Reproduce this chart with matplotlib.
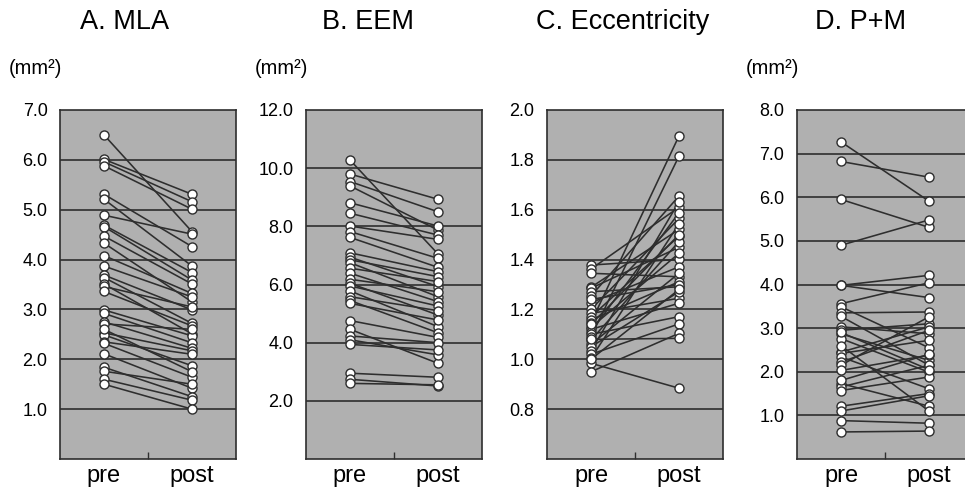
import matplotlib
matplotlib.use("Agg")
import matplotlib.pyplot as plt
from matplotlib.ticker import FixedLocator

plt.rcParams['font.family'] = ['Liberation Sans', 'DejaVu Sans']

# ---------------- data ----------------
categories = ["pre", "post"]

mla_pre = [6.50, 6.01, 5.96, 5.88, 5.31, 5.21, 4.89, 4.69, 4.66, 4.47, 4.33, 4.08,
           3.87, 3.69, 3.64, 3.51, 3.46, 3.36, 2.99, 2.92, 2.75, 2.71, 2.53, 2.49,
           2.35, 2.32, 2.11, 1.84, 1.76, 1.60, 1.50, 2.60]
mla_post = [4.56, 5.31, 5.16, 5.01, 4.26, 3.87, 4.51, 3.74, 3.59, 3.51, 3.15, 3.32,
            3.25, 2.99, 2.72, 2.51, 3.05, 2.67, 2.47, 2.33, 2.22, 2.60, 2.17, 1.87,
            2.10, 1.64, 1.42, 1.25, 1.50, 1.18, 1.00, 1.75]

eem_pre = [10.28, 9.80, 9.54, 9.39, 8.81, 8.45, 8.01, 7.82, 7.62, 7.09, 6.94, 6.85,
           6.75, 6.56, 6.39, 6.18, 6.04, 5.95, 5.78, 5.58, 5.45, 5.35, 4.76, 4.46,
           4.23, 4.10, 3.94, 2.95, 2.74, 2.60]
eem_post = [7.05, 8.93, 8.50, 7.87, 8.01, 7.70, 7.55, 6.90, 6.59, 6.44, 5.93, 6.27,
            5.58, 6.10, 5.41, 5.75, 4.95, 5.26, 4.55, 5.10, 4.34, 4.78, 4.18, 3.29,
            4.00, 3.58, 3.75, 2.81, 2.51, 2.55]

ecc_pre = [1.378, 1.362, 1.345, 1.289, 1.285, 1.271, 1.254, 1.227, 1.200, 1.184,
           1.170, 1.158, 1.147, 1.128, 1.120, 1.111, 1.100, 1.091, 1.077, 1.060,
           1.050, 1.034, 1.020, 1.004, 0.984, 0.950, 1.240, 1.140, 1.080, 1.000]
ecc_post = [1.401, 1.610, 1.331, 1.521, 1.449, 1.291, 1.655, 1.371, 1.565, 1.245,
            1.494, 1.311, 1.896, 1.425, 1.225, 1.588, 1.171, 1.815, 1.472, 1.345,
            1.271, 1.632, 1.142, 1.543, 0.884, 1.104, 1.300, 1.500, 1.084, 1.280]

pm_pre = [7.27, 6.82, 5.95, 4.90, 3.98, 3.98, 3.56, 3.49, 3.35, 3.27, 3.03, 2.95,
          2.87, 2.76, 2.45, 2.42, 2.34, 2.22, 2.15, 2.03, 1.73, 1.65, 1.57, 1.21,
          0.88, 0.62, 2.90, 2.60, 1.80, 1.10]
pm_post = [5.91, 6.46, 5.31, 5.48, 4.21, 3.70, 4.04, 2.55, 3.37, 2.15, 2.87, 3.10,
           2.26, 1.99, 3.03, 2.72, 1.61, 2.95, 3.26, 2.38, 1.21, 2.15, 1.88, 1.50,
           0.82, 0.64, 2.05, 1.10, 2.40, 1.45]

titles = ["A. MLA", "B. EEM", "C. Eccentricity", "D. P+M"]
units = ["(mm²)", "(mm²)", None, "(mm²)"]
ylims = [(0, 7), (0, 12), (0.6, 2.0), (0, 8)]
yticks = [[1, 2, 3, 4, 5, 6, 7],
          [2, 4, 6, 8, 10, 12],
          [0.8, 1.0, 1.2, 1.4, 1.6, 1.8, 2.0],
          [1, 2, 3, 4, 5, 6, 7, 8]]
panels = [(mla_pre, mla_post), (eem_pre, eem_post),
          (ecc_pre, ecc_post), (pm_pre, pm_post)]

# ---------------- layout ----------------
W, H = 965, 495
fig = plt.figure(figsize=(W / 100, H / 100), dpi=100)

lefts_px = [60, 306, 547, 797]
title_x_px = [125, 368, 623, 861]
ax_w_px = 176
ax_top_px, ax_bot_px = 110, 459

bg = "#b0b0b0"
dark = "#2e2e2e"

for i in range(4):
    left = lefts_px[i] / W
    bottom = (H - ax_bot_px) / H
    height = (ax_bot_px - ax_top_px) / H
    ax = fig.add_axes([left, bottom, ax_w_px / W, height])
    ax.set_facecolor(bg)
    pre, post = panels[i]
    for a, b in zip(pre, post):
        ax.plot([0.5, 1.5], [a, b], color=dark, lw=1.15, zorder=2)
    ax.plot([0.5] * len(pre), pre, 'o', ms=6.5, mfc='white', mec=dark, mew=1.0, zorder=3,
            linestyle='none')
    ax.plot([1.5] * len(post), post, 'o', ms=6.5, mfc='white', mec=dark, mew=1.0, zorder=3,
            linestyle='none')
    ax.set_xlim(0, 2)
    ax.set_ylim(*ylims[i])
    ax.set_yticks(yticks[i])
    ax.set_yticklabels([f"{t:.1f}" for t in yticks[i]])
    for t in yticks[i]:
        if t < ylims[i][1] - 1e-9:
            ax.axhline(t, color=dark, lw=1.2, zorder=1)
    ax.set_xticks([0.5, 1.5])
    ax.set_xticklabels(categories)
    ax.xaxis.set_minor_locator(FixedLocator([1.0]))
    ax.tick_params(axis='y', length=0, pad=9, labelsize=13)
    ax.tick_params(axis='x', which='major', length=0, pad=4, labelsize=17)
    ax.tick_params(axis='x', which='minor', direction='in', length=5, width=1.0,
                   color=dark)
    for s in ax.spines.values():
        s.set_color(dark)
        s.set_linewidth(1.2)
    fig.text(title_x_px[i] / W, 1 - 22 / H, titles[i], ha='center', va='center',
             fontsize=19.5)
    if units[i]:
        fig.text((lefts_px[i] - 51) / W, 1 - 68 / H, units[i], ha='left',
                 va='center', fontsize=14.5)

fig.savefig("out.png", dpi=100, facecolor='white')
